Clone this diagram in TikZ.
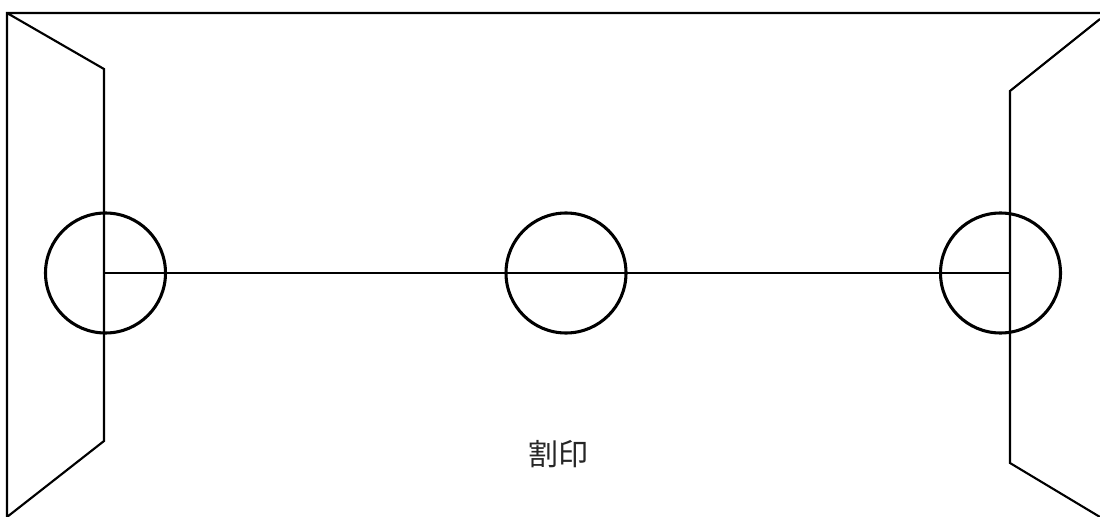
\documentclass[tikz,border=0pt]{standalone}
\usepackage{fontspec}
\newfontfamily\cjk{Noto Sans CJK JP}
\tikzset{
  edge/.style={draw=black,line width=1.6pt,line join=miter},
  thinedge/.style={draw=black,line width=1.35pt},
  ring/.style={circle,draw=black,line width=2.3pt,minimum size=90pt,inner sep=0pt,outer sep=0pt},
  stamp/.style={font=\cjk\fontsize{22.5pt}{24pt}\selectfont,text=black!85,inner sep=0pt}
}
\begin{document}
\begin{tikzpicture}[x=0.75pt,y=-0.75pt]
\useasboundingbox (0,0) rectangle (1100,517);
\fill[white] (0,0) rectangle (1100,517);
\coordinate (tl) at (7,13);
\coordinate (tr) at (1100,13);
\coordinate (bl) at (7,517);
\coordinate (la) at (104,69);
\coordinate (lb) at (104,441);
\coordinate (ra) at (1010,91);
\coordinate (rb) at (1010,463);
\coordinate (rt) at (1100,19);
\coordinate (rd) at (1100,517);
\coordinate (ml) at (104,273);
\coordinate (mr) at (1010,273);
\draw[edge] (tr) -- (tl) -- (bl) -- (lb) -- (la) -- (tl);
\draw[edge] (rt) -- (ra) -- (rb) -- (rd);
\draw[thinedge] (ml) -- (mr);
\node[ring] (c1) at (105.5,273) {};
\node[ring] (c2) at (566,273) {};
\node[ring] (c3) at (1000.5,273) {};
\node[stamp] (label) at (558.5,454.5) {割印};
\end{tikzpicture}
\end{document}
